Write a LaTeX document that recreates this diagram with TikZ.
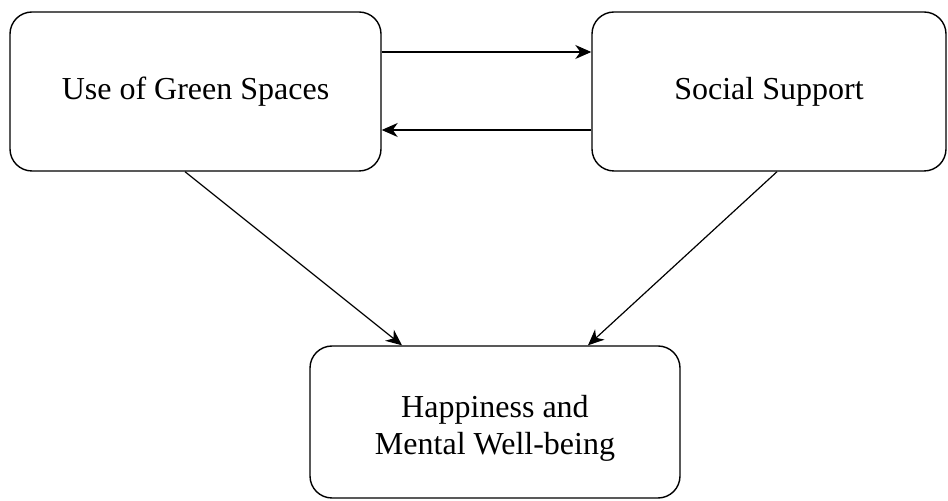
\documentclass[tikz,border=0pt]{standalone}
\usepackage{fontspec}
\setmainfont{Liberation Serif}
\usepackage{tikz}
\usetikzlibrary{arrows.meta, positioning}
\tikzstyle{factor}=[draw=black, line width=0.7pt, rectangle, rounded corners=11pt, align=center, font=\fontsize{16}{18.5}\selectfont]
\tikzstyle{link}=[-{Stealth[length=8pt,width=7pt,inset=2.5pt]}, line width=0.6pt]

\begin{document}
\begin{tikzpicture}[x=0.5pt, y=-0.5pt]
\useasboundingbox (0,0) rectangle (948,501);

\node[factor, minimum width=185pt, minimum height=76pt] (happy) at (495,422) {};
\node[factor, draw=none, fill=none] (happytext) at (495,428) {Happiness and\\Mental Well-being};
\node[factor, minimum width=185.5pt, minimum height=79.5pt] (green) at (195.5,91.5) {Use of Green Spaces};
\node[factor, minimum width=177pt, minimum height=79.5pt] (social) at (769,91.5) {Social Support};

\draw[link] ([yshift=19.75pt]green.east) -- ([yshift=19.75pt]social.west);
\draw[link] ([yshift=-19.25pt]social.west) -- ([yshift=-19.25pt]green.east);

\draw[link] ([xshift=-5.25pt]green.south) -- ([xshift=-46.5pt]happy.north);
\draw[link] ([xshift=4pt]social.south) -- ([xshift=46.5pt]happy.north);
\end{tikzpicture}
\end{document}
